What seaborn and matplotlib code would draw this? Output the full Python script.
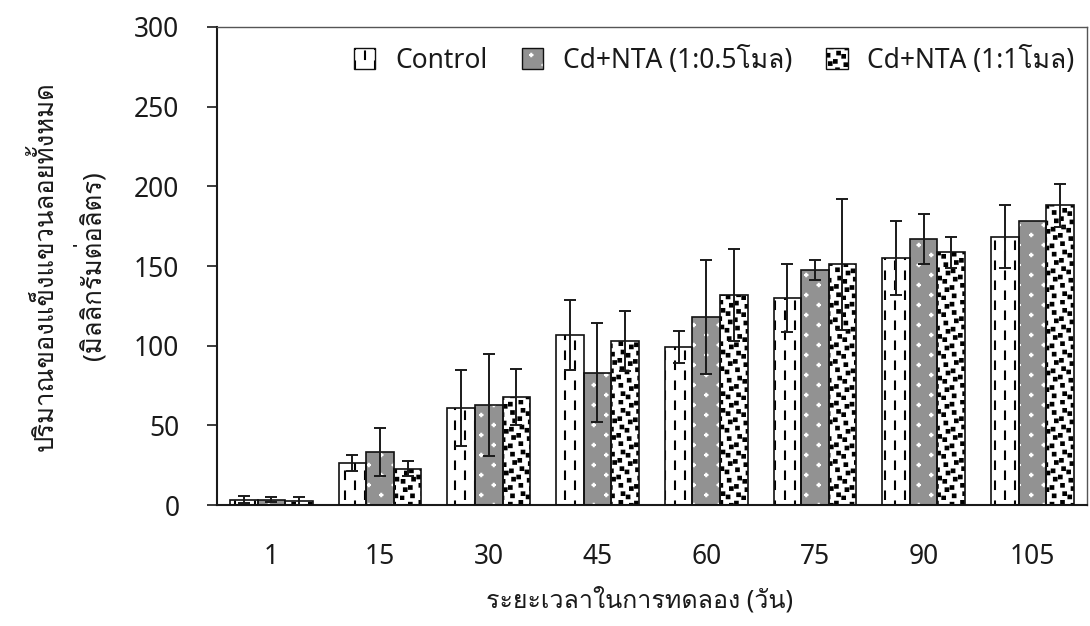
import warnings

import numpy as np
import pandas as pd
import matplotlib
matplotlib.use("Agg")
import matplotlib.pyplot as plt
import matplotlib.hatch as mhatch
from matplotlib import font_manager
from matplotlib.ft2font import FT2Font
from matplotlib.path import Path
from matplotlib.patches import Rectangle
from matplotlib.legend_handler import HandlerTuple
import seaborn as sns

warnings.filterwarnings("ignore")

# ---- data -----------------------------------------------------------------
days = ["1", "15", "30", "45", "60", "75", "90", "105"]
groups = ["Control", "Cd+NTA (1:0.5โมล)", "Cd+NTA (1:1โมล)"]

control_mean = [3.5, 26.5, 61, 107, 99, 130, 155, 168.5]
control_sd = [2.0, 5.0, 24, 22, 10, 21.5, 23, 20]
half_mol_mean = [3.3, 33.5, 63, 83, 118, 147.5, 167, 178.5]
half_mol_sd = [1.6, 15, 32, 31, 35.5, 6.0, 15.5, 0]
one_mol_mean = [2.6, 23, 68, 103, 132, 151, 158.5, 188]
one_mol_sd = [2.3, 4.6, 17.5, 19, 29, 41, 10, 13.5]

y_ticks = [0, 50, 100, 150, 200, 250, 300]

x_title = "ระยะเวลาในการทดลอง (วัน)"
y_title_1 = "ปริมาณของแข็งแขวนลอยทั้งหมด"
y_title_2 = "(มิลลิกรัมต่อลิตร)"

means = [control_mean, half_mol_mean, one_mol_mean]
sds = [control_sd, half_mol_sd, one_mol_sd]

df = pd.DataFrame({
    "day": np.tile(days, len(groups)),
    "group": np.repeat(groups, len(days)),
    "tss": np.concatenate(means),
    "sd": np.concatenate(sds),
})


# ---- custom fill patterns ---------------------------------------------------
class DashedColumns(mhatch.HatchPatternBase):
    """Staggered short vertical dashes ('v')."""
    ncol, nrow, dash = 10, 5, 0.075

    def __init__(self, hatch, density):
        self.num_vertices = self.ncol * self.nrow * 2 if "v" in hatch else 0

    def set_vertices_and_codes(self, vertices, codes):
        k = 0
        for i in range(self.ncol):
            x = (i + 0.5) / self.ncol
            shift = 0.1 if i % 2 else 0.0
            for j in range(self.nrow):
                y0 = j / self.nrow + 0.01 + shift
                vertices[k] = (x, y0)
                vertices[k + 1] = (x, y0 + self.dash)
                codes[k] = Path.MOVETO
                codes[k + 1] = Path.LINETO
                k += 2


class Confetti(mhatch.HatchPatternBase):
    """Scattered small filled squares ('q')."""
    n, size = 12, 0.026
    filled = True

    def __init__(self, hatch, density):
        self.num_vertices = self.n * self.n * 5 if "q" in hatch else 0

    def set_vertices_and_codes(self, vertices, codes):
        cell = 1.0 / self.n
        slack = cell - self.size - 0.014
        k = 0
        for i in range(self.n):
            for j in range(self.n):
                ox = ((i * 7 + j * 3) % 5) / 4.0 * slack + 0.007
                oy = ((i * 2 + j * 5) % 5) / 4.0 * slack + 0.007
                x0, y0 = i * cell + ox, j * cell + oy
                s = self.size
                vertices[k:k + 5] = [(x0, y0), (x0 + s, y0), (x0 + s, y0 + s),
                                     (x0, y0 + s), (x0, y0)]
                codes[k:k + 5] = [Path.MOVETO, Path.LINETO, Path.LINETO,
                                  Path.LINETO, Path.CLOSEPOLY]
                k += 5


class Sparkles(mhatch.HatchPatternBase):
    """Small staggered plus signs ('k')."""
    ncol, nrow, arm = 8, 5, 0.012

    def __init__(self, hatch, density):
        self.num_vertices = self.ncol * self.nrow * 4 if "k" in hatch else 0

    def set_vertices_and_codes(self, vertices, codes):
        k = 0
        for i in range(self.ncol):
            x = (i + 0.5) / self.ncol
            shift = 0.1 if i % 2 else 0.0
            for j in range(self.nrow):
                y = j / self.nrow + 0.05 + shift
                a = self.arm
                vertices[k:k + 4] = [(x - a, y), (x + a, y), (x, y - a), (x, y + a)]
                codes[k:k + 4] = [Path.MOVETO, Path.LINETO, Path.MOVETO, Path.LINETO]
                k += 4


mhatch._hatch_types.extend([DashedColumns, Confetti, Sparkles])

# pattern, hatch colour, face colour for each group
styles = [
    ("v", "black", "white"),
    ("k", "white", "#929292"),
    ("q", "black", "white"),
]


# ---- fonts ------------------------------------------------------------------
def font_covering(sample):
    for entry in font_manager.fontManager.ttflist:
        try:
            cmap = FT2Font(entry.fname).get_charmap()
        except Exception:
            continue
        if all(ord(ch) in cmap for ch in sample):
            return entry.name
    return None


sns.set_style("white")
thai_family = font_covering("ปริมาณของแข็ง")
families = ["Noto Sans"] + ([thai_family] if thai_family else []) + ["DejaVu Sans"]
plt.rcParams["font.family"] = families
plt.rcParams["font.weight"] = "light"
plt.rcParams["hatch.linewidth"] = 1.5
plt.rcParams["axes.unicode_minus"] = False

text_color = "#1a1a1a"

# ---- figure -----------------------------------------------------------------
fig = plt.figure(figsize=(10.9, 6.26), dpi=100)
ax = fig.add_axes([0.199, 0.193, 0.798, 0.764])

sns.barplot(data=df, x="day", y="tss", hue="group", order=days,
            hue_order=groups, errorbar=None, width=0.76, legend=False,
            palette=["white"] * 3, ax=ax)

handles = []
for container, (pattern, hcol, face), sd in zip(ax.containers, styles, sds):
    xs, hs = [], []
    for bar in container.patches:
        bar.set_facecolor(face)
        bar.set_hatch(pattern)
        bar.set_edgecolor(hcol)
        bar.set_linewidth(0)
        ax.add_patch(Rectangle((bar.get_x(), bar.get_y()), bar.get_width(),
                               bar.get_height(), fill=False,
                               edgecolor="#111111", linewidth=1.2, zorder=3))
        xs.append(bar.get_x() + bar.get_width() / 2)
        hs.append(bar.get_height())
    xs, hs, err = np.array(xs), np.array(hs), np.array(sd)
    keep = err > 0
    ax.errorbar(xs[keep], hs[keep], yerr=err[keep], fmt="none",
                ecolor="#1a1a1a", elinewidth=1.4, capsize=4.5, capthick=1.4,
                zorder=4)
    swatch = Rectangle((0, 0), 1, 1, facecolor=face, hatch=pattern,
                       edgecolor=hcol, linewidth=0)
    outline = Rectangle((0, 0), 1, 1, fill=False, edgecolor="#111111",
                        linewidth=1.0)
    handles.append((swatch, outline))

ax.set_xlim(-0.5, len(days) - 0.5)
ax.set_ylim(0, 300)
ax.set_yticks(y_ticks)
ax.set_yticklabels([str(v) for v in y_ticks])
ax.tick_params(axis="y", which="major", left=True, length=7, width=1.2,
               direction="out", pad=20, labelsize=19, colors=text_color)
ax.tick_params(axis="x", length=0, pad=27, labelsize=19, colors=text_color)

for side in ("left", "bottom"):
    ax.spines[side].set_color("#1a1a1a")
    ax.spines[side].set_linewidth(1.5)
for side in ("top", "right"):
    ax.spines[side].set_visible(True)
    ax.spines[side].set_color("#555555")
    ax.spines[side].set_linewidth(1.0)

ax.set_xlabel(x_title, fontsize=18, labelpad=12, color=text_color)
ax.xaxis.label.set_x(0.486)
ax.set_ylabel("")
fig.text(45 / 1090, 1 - 266 / 626, y_title_1, rotation=90, ha="center",
         va="center", fontsize=18.5, color=text_color)
fig.text(90 / 1090, 1 - 266 / 626, y_title_2, rotation=90, ha="center",
         va="center", fontsize=18.5, color=text_color)

ax.legend(handles, groups, handler_map={tuple: HandlerTuple(ndivide=1, pad=0)},
          loc="center right", bbox_to_anchor=(0.986, 0.929), ncol=3,
          frameon=False, fontsize=19, borderpad=0, borderaxespad=0,
          handlelength=0.8, handleheight=0.85, handletextpad=0.75,
          columnspacing=1.3, labelcolor=text_color)

fig.savefig("out.png", dpi=100)
